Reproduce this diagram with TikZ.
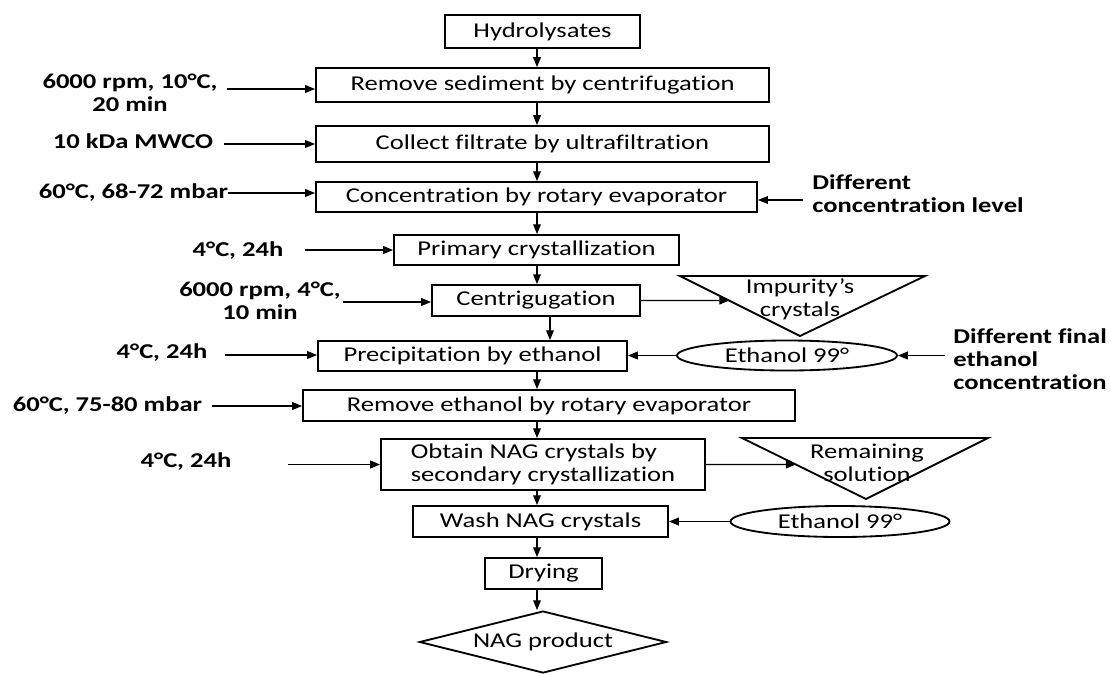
\documentclass[tikz,border=0pt]{standalone}
\usepackage{fontspec}
\setmainfont{Carlito}[FakeStretch=1.26,Ligatures=NoCommon]
\usetikzlibrary{arrows.meta,shapes.geometric,calc}
\begin{document}
\begin{tikzpicture}[x=0.025cm,y=-0.025cm,
    font=\fontsize{15}{16.5}\selectfont,
    stage/.style n args={2}{draw,line width=1.3pt,minimum width=#1*0.025cm,minimum height=#2*0.025cm,inner sep=0pt,align=center},
    cond/.style={font=\bfseries\fontsize{15}{16.5}\selectfont,align=center,inner sep=0pt},
    waste/.style={line width=1.3pt,line join=miter},
    solvent/.style={ellipse,draw,line width=1.3pt,minimum width=220*0.025cm,minimum height=30*0.025cm,inner sep=0pt},
    flow/.style={-{Triangle[length=7pt,width=5.5pt]},line width=0.9pt}]
\useasboundingbox (0,0) rectangle (1111,673);
% main line
\node[stage={195}{33}] (hyd) at (542.5,31.5) {Hydrolysates};
\node[stage={453}{34}] (sed) at (542.5,85) {Remove sediment by centrifugation};
\node[stage={453}{36}] (filt) at (542.5,144) {Collect filtrate by ultrafiltration};
\node[stage={441}{30}] (conc) at (536.5,197) {Concentration by rotary evaporator};
\node[stage={285}{30}] (prim) at (536.5,250) {Primary crystallization};
\node[stage={208}{31}] (cent) at (536,300.5) {Centrigugation};
\node[stage={309}{30}] (prec) at (472.5,356) {Precipitation by ethanol};
\node[stage={492}{31}] (remo) at (549,405.5) {Remove ethanol by rotary evaporator};
\node[stage={324}{51},align=left] (obt) at (543,464.5) {Obtain NAG crystals by\\secondary crystallization};
\node[stage={255}{31}] (wash) at (540.5,521.5) {Wash NAG crystals};
\node[stage={117}{31}] (dry) at (543.5,573.5) {Drying};
\node[diamond,draw,line width=1.3pt,aspect=4,inner sep=0pt,minimum width=247*0.025cm,minimum height=62*0.025cm] (prod) at (543,642) {NAG product};
\coordinate (ax) at (537,0);
\coordinate (ax2) at (550,0);
\foreach \a/\b in {hyd/sed,sed/filt,filt/conc,conc/prim,prim/cent,prec/remo,remo/obt,obt/wash,wash/dry,dry/prod}
  \draw[flow] (\a.south -| ax) -- (\b.north -| ax);
\draw[flow] (cent.south -| ax2) -- (prec.north -| ax2);
% conditions on the left
\node[cond] (c1) at (130,93) {6000 rpm, 10°C,\\20 min};
\node[cond] (c2) at (133,141) {10 kDa MWCO};
\node[cond] (c3) at (133.5,193) {60°C, 68-72 mbar};
\node[cond] (c4) at (238,251) {4°C, 24h};
\node[cond] (c5) at (260,301) {6000 rpm, 4°C,\\10 min};
\node[cond] (c6) at (162,353) {4°C, 24h};
\node[cond] (c7) at (107.5,406) {60°C, 75-80 mbar};
\node[cond] (c8) at (186,462) {4°C, 24h};
\coordinate (s1) at (227,89);
\coordinate (s2) at (224,144);
\coordinate (s3) at (228,193);
\coordinate (s4) at (305,250);
\coordinate (s5) at (343,302);
\coordinate (s6) at (225,355);
\coordinate (s7) at (212,406);
\coordinate (s8) at (288,464.5);
\foreach \s/\t in {s1/sed,s2/filt,s3/conc,s4/prim,s5/cent,s6/prec,s7/remo,s8/obt}
  \draw[flow] (\s) -- (\s -| \t.west);
% right side
\node[cond,anchor=west,align=left] (d1) at (812,194) {Different\\concentration level};
\coordinate (r1) at (803,200);
\draw[flow] (r1) -- (r1 -| conc.east);
\coordinate (impa) at (680,276);
\coordinate (impb) at (925,276);
\coordinate (impc) at (800,336);
\draw[waste] (impa) -- (impb) -- (impc) -- cycle;
\node[align=center,inner sep=0pt] (imp) at (800,299.5) {Impurity’s\\crystals};
\coordinate (impin) at ($(impa)!0.41!(impc)$);
\draw[flow] (cent.east) -- (impin);
\node[solvent] (eth1) at (787,355.5) {Ethanol 99°};
\draw[flow] (eth1.west) -- (eth1.west -| prec.east);
\node[cond,anchor=west,align=left] (d2) at (953,359) {Different final\\ethanol\\concentration};
\coordinate (r2) at (945,355.5);
\draw[flow] (r2) -- (eth1.east);
\coordinate (rema) at (742,438);
\coordinate (remb) at (988,438);
\coordinate (remc) at (866,499);
\draw[waste] (rema) -- (remb) -- (remc) -- cycle;
\node[align=center,inner sep=0pt] (rem) at (867,462.5) {Remaining\\solution};
\coordinate (remin) at ($(rema)!0.434!(remc)$);
\draw[flow] (obt.east) -- (remin);
\node[solvent,minimum width=219*0.025cm,minimum height=31*0.025cm] (eth2) at (840,521.5) {Ethanol 99°};
\draw[flow] (eth2.west) -- (eth2.west -| wash.east);
\end{tikzpicture}
\end{document}
